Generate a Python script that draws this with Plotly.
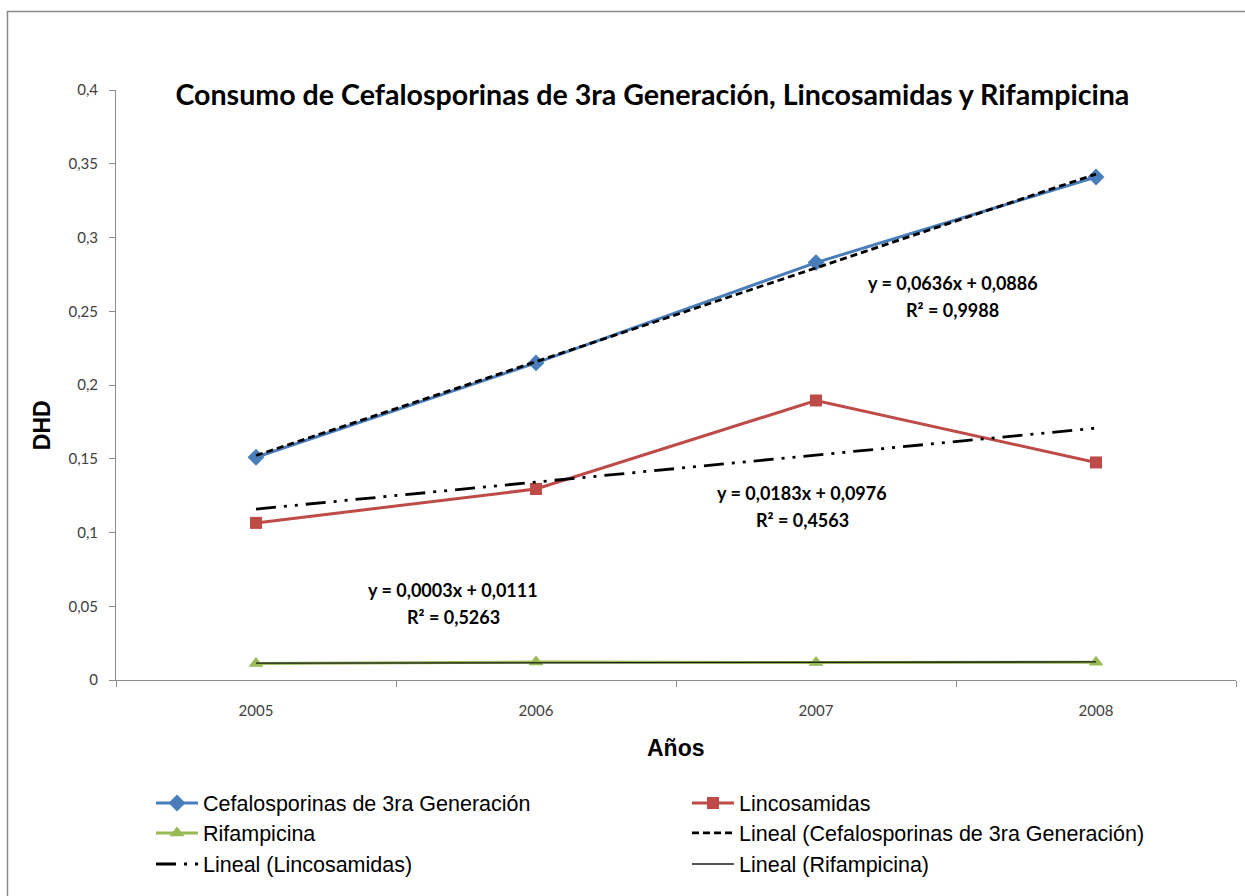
import plotly.graph_objects as go

# --- data -------------------------------------------------------------
years = ["2005", "2006", "2007", "2008"]
cefalosporinas = [0.151, 0.215, 0.283, 0.341]
lincosamidas = [0.1065, 0.1295, 0.1895, 0.1475]
rifampicina = [0.0112, 0.0122, 0.0118, 0.0121]

# linear trend coefficients (slope, intercept) as printed on the chart
trend_cef = (0.0636, 0.0886)
trend_linc = (0.0183, 0.0976)
trend_rif = (0.0003, 0.0111)

eq_labels = [
    ("y = 0,0636x + 0,0886", "R² = 0,9988"),
    ("y = 0,0183x + 0,0976", "R² = 0,4563"),
    ("y = 0,0003x + 0,0111", "R² = 0,5263"),
]
y_ticks = [0, 0.05, 0.1, 0.15, 0.2, 0.25, 0.3, 0.35, 0.4]

title = "Consumo de Cefalosporinas de 3ra Generación, Lincosamidas y Rifampicina"

BLUE = "#4A7EBB"
RED = "#BE4B48"
GREEN = "#98B954"
AXIS = "#8C8C8C"
TICKTXT = "#404040"
CAL = "Lato, Carlito, Calibri, sans-serif"
ARIAL = "Liberation Sans, Arial, sans-serif"


def trend(coef):
    m, b = coef
    return [m * (i + 1) + b for i in range(len(years))]


fig = go.Figure()

# data series
fig.add_trace(go.Scatter(
    x=years, y=cefalosporinas, name="Cefalosporinas de 3ra Generación",
    mode="lines+markers", line=dict(color=BLUE, width=3),
    marker=dict(symbol="diamond", size=13, color=BLUE), legend="legend"))
fig.add_trace(go.Scatter(
    x=years, y=lincosamidas, name="Lincosamidas",
    mode="lines+markers", line=dict(color=RED, width=3),
    marker=dict(symbol="square", size=12, color=RED), legend="legend"))
fig.add_trace(go.Scatter(
    x=years, y=rifampicina, name="Rifampicina",
    mode="lines+markers", line=dict(color=GREEN, width=3),
    marker=dict(symbol="triangle-up", size=13, color=GREEN), legend="legend2"))

# linear trend lines
fig.add_trace(go.Scatter(
    x=years, y=trend(trend_cef), name="Lineal (Cefalosporinas de 3ra Generación)",
    mode="lines", line=dict(color="black", width=2.8, dash="7px,4px"),
    legend="legend2"))
fig.add_trace(go.Scatter(
    x=years, y=trend(trend_linc), name="Lineal (Lincosamidas)",
    mode="lines", line=dict(color="black", width=2.8,
                            dash="20px,8px,3px,8px,3px,8px"),
    legend="legend3"))
fig.add_trace(go.Scatter(
    x=years, y=trend(trend_rif), name="Lineal (Rifampicina)",
    mode="lines", line=dict(color="#1a1a1a", width=1.3),
    legend="legend3"))

# trend equations
eq_pos = [(2.489, 0.2692, 0.2508), (1.95, 0.1268, 0.1085), (0.704, 0.0610, 0.0427)]
for (eq, r2), (xc, y1, y2) in zip(eq_labels, eq_pos):
    for txt, yy in ((eq, y1), (r2, y2)):
        fig.add_annotation(x=xc, y=yy, xref="x", yref="y", text=txt,
                           showarrow=False, xanchor="center", yanchor="middle",
                           font=dict(family=CAL, size=18, color="black",
                                     weight="bold"))

# axis titles
fig.add_annotation(x=-0.066, y=0.432, xref="paper", yref="paper", text="DHD",
                   textangle=-90, showarrow=False,
                   xanchor="center", yanchor="middle",
                   font=dict(family=ARIAL, size=23, color="black", weight="bold"))
fig.add_annotation(x=0.5, y=-0.115, xref="paper", yref="paper", text="Años",
                   showarrow=False, xanchor="center", yanchor="middle",
                   font=dict(family=ARIAL, size=23, color="black", weight="bold"))

# chart frame
fig.add_shape(type="rect", xref="paper", yref="paper",
              x0=-0.0969, x1=1.03, y0=-0.40, y1=1.133,
              line=dict(color="#8A8A8A", width=1.5), layer="below")

legend_common = dict(orientation="h", xanchor="left", yanchor="middle",
                     entrywidth=479, entrywidthmode="pixels",
                     font=dict(family=ARIAL, size=21.5, color="black"),
                     bgcolor="rgba(0,0,0,0)", itemwidth=42, x=0.03125)

fig.update_layout(
    width=1245, height=896,
    margin=dict(l=116, r=9, t=90, b=216, autoexpand=False),
    paper_bgcolor="white", plot_bgcolor="white",
    separators=",.",
    showlegend=True,
    title=dict(text=title, x=0.524, xref="container", xanchor="center",
               y=1 - 95 / 896, yanchor="middle",
               font=dict(family=CAL, size=28.6, color="black", weight="bold")),
    legend=dict(**legend_common, y=-0.2085),
    legend2=dict(**legend_common, y=-0.2593),
    legend3=dict(**legend_common, y=-0.3119),
    xaxis=dict(type="category", range=[-0.5, 3.5], showgrid=False,
               showline=True, linecolor=AXIS, linewidth=1,
               ticks="outside", tickson="boundaries", ticklen=6,
               tickcolor=AXIS, ticklabelstandoff=17,
               tickfont=dict(family=CAL, size=15, color=TICKTXT),
               zeroline=False),
    yaxis=dict(range=[0, 0.4], tickvals=y_ticks, showgrid=False,
               showline=True, linecolor=AXIS, linewidth=1,
               ticks="outside", ticklen=6, tickcolor=AXIS,
               ticklabelstandoff=8,
               tickfont=dict(family=CAL, size=15, color=TICKTXT),
               zeroline=False),
)

fig.write_html("out.html")
